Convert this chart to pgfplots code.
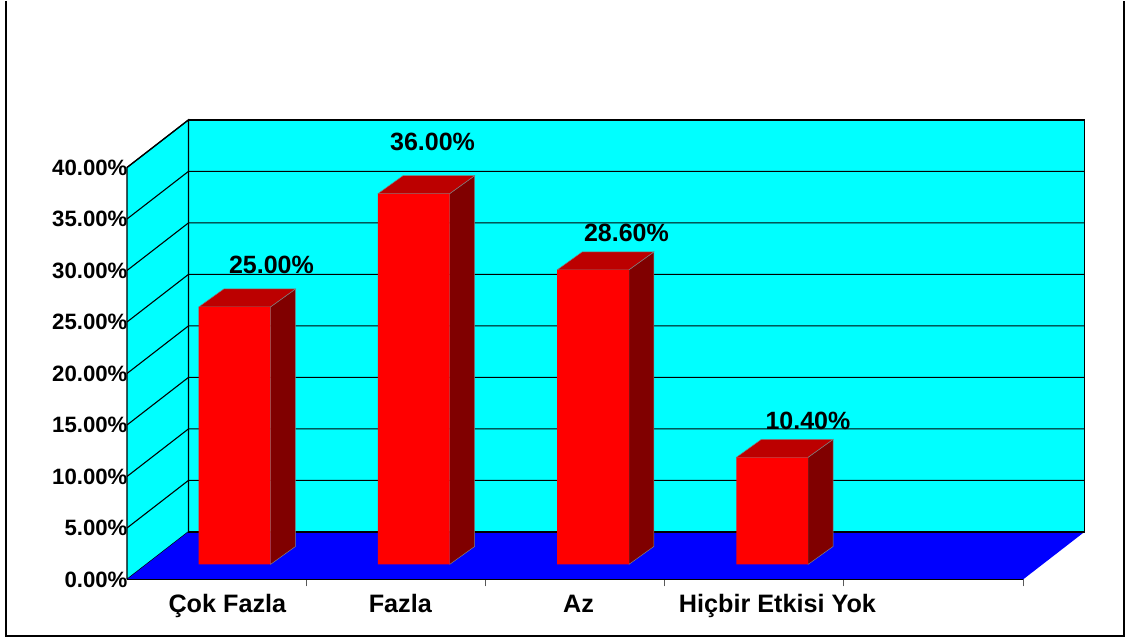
\documentclass[border=0pt]{standalone}
\usepackage{fontspec}
\setmainfont{Liberation Sans}
\usepackage{pgfplots}
\pgfplotsset{compat=1.18}
\definecolor{wallc}{HTML}{00FFFF}
\definecolor{floorc}{HTML}{0000FF}
\definecolor{barfront}{HTML}{FF0000}
\definecolor{bartop}{HTML}{BC0000}
\definecolor{barside}{HTML}{800000}

% gridline across side wall and back wall
\newcommand{\gridline}[1]{%
  \pgfmathsetmacro\gy{#1+4.62}%
  \addplot[black, line width=1.1pt, forget plot] coordinates {(0,#1) (0.343,\gy) (5.343,\gy)};
}
% bar with its top and side face: left edge, value
\newcommand{\threedbar}[2]{%
  \pgfmathsetmacro\xl{#1}%
  \pgfmathsetmacro\xr{#1+0.4}%
  \pgfmathsetmacro\xbl{#1+0.14}%
  \pgfmathsetmacro\xbr{#1+0.54}%
  \pgfmathsetmacro\yt{#2+1.456}%
  \pgfmathsetmacro\ybt{#2+3.204}%
  \addplot[fill=barside, draw=gray, line width=0.5pt, forget plot] coordinates {(\xr,1.456) (\xbr,3.204) (\xbr,\ybt) (\xr,\yt) (\xr,1.456)};
  \addplot[fill=bartop, draw=gray, line width=0.5pt, forget plot] coordinates {(\xl,\yt) (\xbl,\ybt) (\xbr,\ybt) (\xr,\yt) (\xl,\yt)};
  \addplot[fill=barfront, draw=none, forget plot] coordinates {(\xl,1.456) (\xr,1.456) (\xr,\yt) (\xl,\yt) (\xl,1.456)};
}

\begin{document}
\begin{tikzpicture}
\begin{axis}[
  scale only axis, width=896pt, height=412pt,
  xmin=0, xmax=5, ymin=0, ymax=40,
  clip=false,
  axis line style={draw=none},
  xtick={1,2,3,4,5}, xticklabels={,,,,},
  xtick pos=bottom, tick align=outside, major tick length=7pt,
  x tick style={draw=gray!70!black, line width=0.8pt},
  extra x ticks={0.56,1.525,2.52,3.63},
  extra x tick labels={Çok Fazla,Fazla,Az,Hiçbir Etkisi Yok},
  extra x tick style={major tick length=0pt, x tick style={draw=none}},
  x tick label style={font=\fontsize{25.2}{27}\selectfont\bfseries, anchor=base, yshift=-33pt},
  ytick={0,5,...,40}, ytick pos=left,
  y tick style={draw=none},
  yticklabel={\pgfmathprintnumber{\tick}\%},
  /pgf/number format/.cd, fixed, fixed zerofill, precision=2, assume math mode=true,
  /pgfplots/.cd,
  y tick label style={font=\fontsize{22.2}{24}\selectfont\bfseries, anchor=east, xshift=11pt},
  every node near coord/.append style={font=\fontsize{25}{27}\selectfont\bfseries, anchor=center, black},
]
% picture extent, outer frame open at the top
\addplot[draw=none, forget plot] coordinates {(-0.7087,-6.049) (5.586,-6.049) (5.586,56.184) (-0.7087,56.184)};
\addplot[black, line width=1.6pt, forget plot] coordinates {(-0.675,56.184) (-0.675,-5.515) (5.5636,-5.515) (5.5636,56.184)};
% walls and floor
\addplot[fill=wallc, draw=black, line width=1.3pt, forget plot] coordinates {(0.343,4.62) (5.343,4.62) (5.343,44.62) (0.343,44.62) (0.343,4.62)};
\addplot[fill=wallc, draw=black, line width=1.3pt, forget plot] coordinates {(0,0) (0.343,4.62) (0.343,44.62) (0,40) (0,0)};
\addplot[fill=floorc, draw=none, forget plot] coordinates {(0,0) (5,0) (5.343,4.62) (0.343,4.62) (0,0)};
\addplot[black, line width=1.3pt, forget plot] coordinates {(0,0) (5,0)};
\addplot[black, line width=1.3pt, forget plot] coordinates {(0.343,4.62) (5.343,4.62)};
% gridlines
\gridline{5}
\gridline{10}
\gridline{15}
\gridline{20}
\gridline{25}
\gridline{30}
\gridline{35}
\gridline{40}
% bars
\threedbar{0.4}{25}
\threedbar{1.4}{36}
\threedbar{2.4}{28.6}
\threedbar{3.4}{10.4}
% data labels
\addplot[draw=none, mark=none, point meta=explicit symbolic, nodes near coords] coordinates {
  (0.806,30.55) [25.00\%]
  (1.705,42.47) [36.00\%]
  (2.787,33.66) [28.60\%]
  (3.80,15.40) [10.40\%]
};
\end{axis}
\end{tikzpicture}
\end{document}
